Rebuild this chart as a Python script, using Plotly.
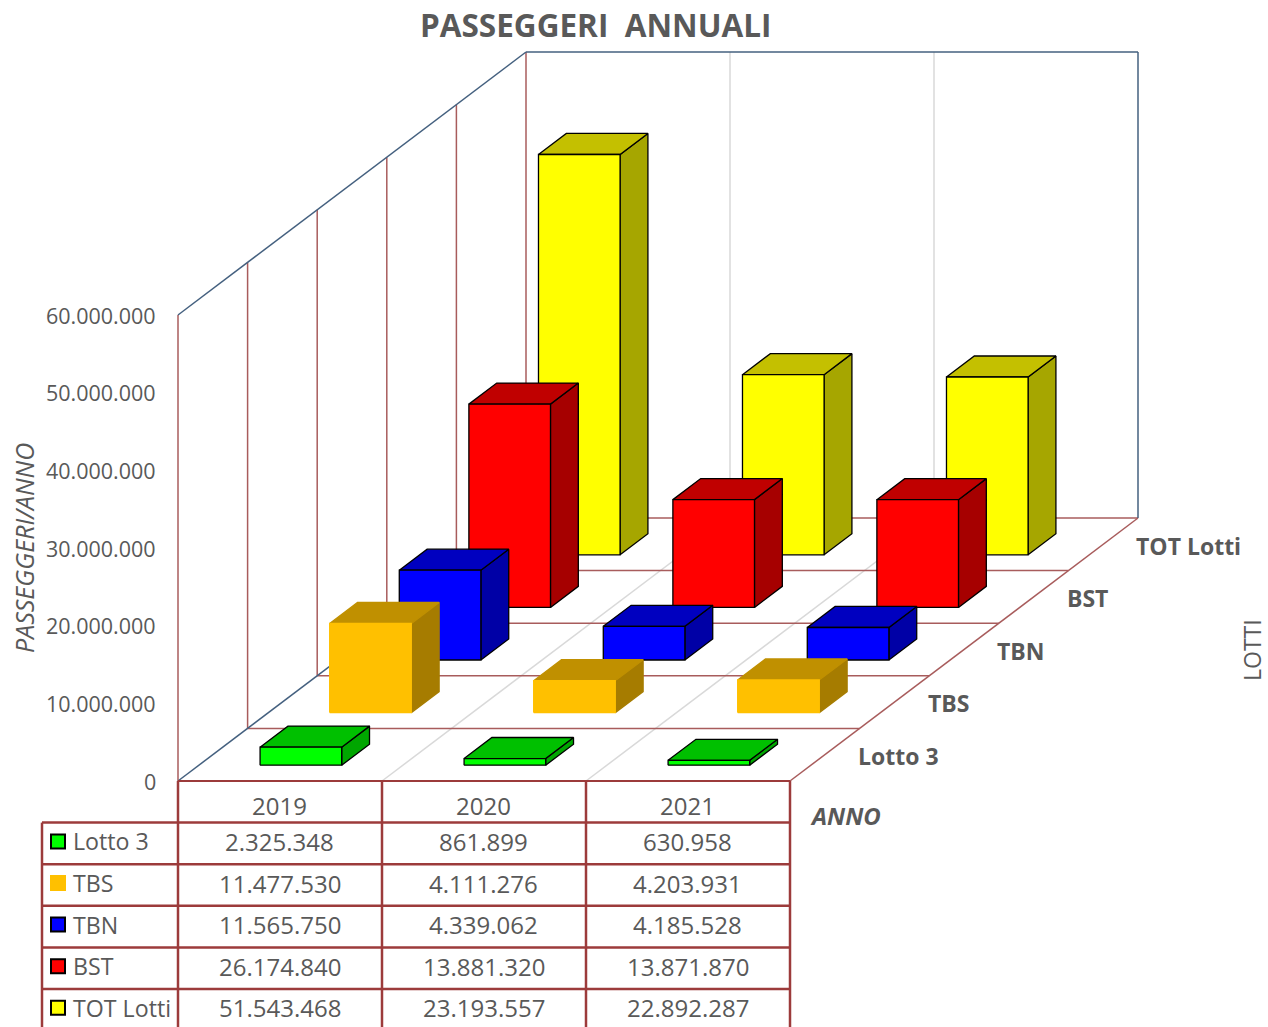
import plotly.graph_objects as go

anni = ["2019", "2020", "2021"]
lotti = ["Lotto 3", "TBS", "TBN", "BST", "TOT Lotti"]

lotto3 = [2325348, 861899, 630958]
tbs = [11477530, 4111276, 4203931]
tbn = [11565750, 4339062, 4185528]
bst = [26174840, 13881320, 13871870]
tot_lotti = [51543468, 23193557, 22892287]

serie = [lotto3, tbs, tbn, bst, tot_lotti]
y_ticks = [0, 10000000, 20000000, 30000000, 40000000, 50000000, 60000000]

# front, top, side
colori = [
    ("#00FF00", "#00C000", "#00A600"),
    ("#FFC000", "#C09000", "#A67C00"),
    ("#0000FF", "#0000C0", "#0000A6"),
    ("#FF0000", "#C00000", "#A60000"),
    ("#FFFF00", "#C4C000", "#A6A600"),
]
bordi = ["#000000", "#FFC000", "#000000", "#000000", "#000000"]

ROSSO = "#A85C5C"
TAB = "#9C3B3B"
BLU = "#44607F"
GRIGIO = "#D9D9D9"
TESTO = "#595959"
FONT = "Open Sans"

# oblique projection of the excel 3d chart
X0, Y0 = 178, 781
CAT_W = 204
DX, DY = 69.6, 52.6
K = 466 / 60000000


def proj(c, d, v=0):
    return X0 + c * CAT_W + d * DX, Y0 - d * DY - v * K


fig = go.Figure()


def linea(p, q, col, w=1.5):
    fig.add_trace(go.Scatter(x=[p[0], q[0]], y=[p[1], q[1]], mode="lines",
                             line=dict(color=col, width=w), hoverinfo="skip"))


def faccia(punti, col, bordo):
    xs = [p[0] for p in punti] + [punti[0][0]]
    ys = [p[1] for p in punti] + [punti[0][1]]
    fig.add_trace(go.Scatter(x=xs, y=ys, mode="lines", fill="toself", fillcolor=col,
                             line=dict(color=bordo, width=1.3), hoverinfo="skip"))


def testo(x, y, s, size=24, bold=False, italic=False, angle=0, anchor="center"):
    fig.add_annotation(x=x, y=y, text=s, showarrow=False, textangle=angle, xanchor=anchor,
                       yanchor="middle",
                       font=dict(family=FONT, size=size, color=TESTO,
                                 weight="bold" if bold else "normal",
                                 style="italic" if italic else "normal"))


n_cat = len(anni)
n_ser = len(lotti)
v_max = y_ticks[-1]

# griglia
for c in range(1, n_cat):
    linea(proj(c, 0), proj(c, n_ser), GRIGIO)
    linea(proj(c, n_ser), proj(c, n_ser, v_max), GRIGIO)
for d in range(1, n_ser + 1):
    linea(proj(0, d), proj(n_cat, d), ROSSO)
    linea(proj(0, d), proj(0, d, v_max), ROSSO)
linea(proj(0, 0), proj(0, 0, v_max), ROSSO)
linea(proj(n_cat, 0), proj(n_cat, n_ser), ROSSO)
linea(proj(0, 0), proj(0, n_ser), BLU)
linea(proj(0, 0, v_max), proj(0, n_ser, v_max), BLU)
linea(proj(0, n_ser, v_max), proj(n_cat, n_ser, v_max), BLU)
linea(proj(n_cat, n_ser), proj(n_cat, n_ser, v_max), BLU)

# barre, dal fondo verso il davanti
for s in range(n_ser - 1, -1, -1):
    for c in range(n_cat):
        v = serie[s][c]
        c1, c2 = c + 0.3, c + 0.7
        d1, d2 = s + 0.3, s + 0.7
        front, top, side = colori[s]
        b = bordi[s]
        faccia([proj(c2, d1), proj(c2, d2), proj(c2, d2, v), proj(c2, d1, v)], side, b if b == "#000000" else side)
        faccia([proj(c1, d1, v), proj(c2, d1, v), proj(c2, d2, v), proj(c1, d2, v)], top, b if b == "#000000" else top)
        faccia([proj(c1, d1), proj(c2, d1), proj(c2, d1, v), proj(c1, d1, v)], front, b)

# etichette asse valori
for t in y_ticks:
    px, py = proj(0, 0, t)
    testo(158, py, f"{t:,}".replace(",", "."), size=21.5, anchor="right")

# etichette lotti sul lato destro
for d, nome in enumerate(lotti):
    px, py = proj(n_cat, d)
    testo(px + 66, py - 25, nome, size=23, bold=True, anchor="left")

testo(595, 24, "PASSEGGERI \u00a0ANNUALI", size=31.5, bold=True)
testo(24, 548, "PASSEGGERI/ANNO", size=25, italic=True, angle=-90)
testo(1252, 650, "LOTTI", size=23, angle=-90)
testo(845, 815, "ANNO", size=24, bold=True, italic=True)

# tabella dati
XT = 42
YT = 781
RIGA = 41.6
YB = 1027
linea((X0, YT), (X0 + n_cat * CAT_W, YT), TAB, 2)
for r in range(1, n_ser + 1):
    linea((XT, YT + r * RIGA), (X0 + n_cat * CAT_W, YT + r * RIGA), TAB, 2.5)
linea((XT, YT + RIGA), (XT, YB), TAB, 2.5)
for c in range(n_cat + 1):
    linea((X0 + c * CAT_W, YT), (X0 + c * CAT_W, YB), TAB, 2.5)

for c, a in enumerate(anni):
    testo(X0 + (c + 0.5) * CAT_W - 0.5, YT + 0.62 * RIGA - 1, a)
for s, nome in enumerate(lotti):
    yr = YT + (s + 1.5) * RIGA - 2
    fig.add_trace(go.Scatter(x=[58], y=[yr], mode="markers", hoverinfo="skip",
                             marker=dict(symbol="square", size=14, color=colori[s][0],
                                         line=dict(color=bordi[s], width=2))))
    testo(71, yr, nome, size=23.2, anchor="left")
    for c in range(n_cat):
        testo(X0 + (c + 0.5) * CAT_W - 0.5, yr, f"{serie[s][c]:,}".replace(",", "."))

fig.update_layout(
    width=1268, height=1027, showlegend=False,
    margin=dict(l=0, r=0, t=0, b=0),
    paper_bgcolor="white", plot_bgcolor="white",
    xaxis=dict(range=[0, 1268], visible=False),
    yaxis=dict(range=[1027, 0], visible=False),
)

fig.write_html("out.html", config={"displayModeBar": False},
               post_script="document.body.style.margin='0';document.body.style.overflow='hidden';")
